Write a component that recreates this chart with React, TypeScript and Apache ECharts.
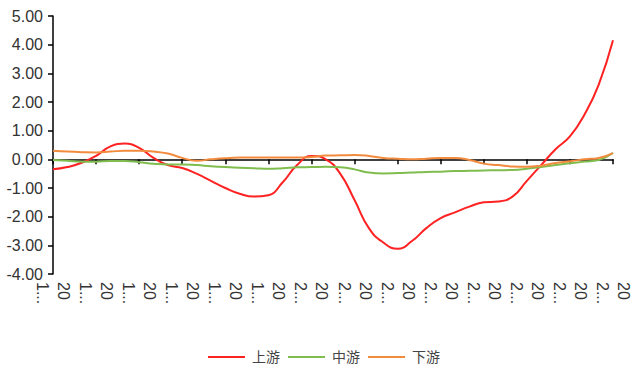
import React, { useEffect, useRef } from "react";
import * as echarts from "echarts";

const months: string[] = [
  "2018-07", "2018-08", "2018-09", "2018-10", "2018-11", "2018-12",
  "2019-01", "2019-02", "2019-03", "2019-04", "2019-05", "2019-06",
  "2019-07", "2019-08", "2019-09", "2019-10", "2019-11", "2019-12",
  "2020-01", "2020-02", "2020-03", "2020-04", "2020-05", "2020-06",
  "2020-07", "2020-08", "2020-09", "2020-10", "2020-11", "2020-12",
  "2021-01", "2021-02", "2021-03", "2021-04", "2021-05", "2021-06",
  "2021-07", "2021-08", "2021-09", "2021-10",
];

const upstream: number[] = [
  -0.35, -0.27, -0.12, 0.12, 0.45, 0.55, 0.4, 0.05, -0.2, -0.3,
  -0.5, -0.75, -1.0, -1.2, -1.3, -1.25, -0.8, -0.2, 0.12, 0.0,
  -0.5, -1.42, -2.4, -2.9, -3.12, -2.85, -2.4, -2.05, -1.85, -1.65,
  -1.5, -1.47, -1.3, -0.75, -0.2, 0.35, 0.8, 1.55, 2.6, 4.15,
];

const midstream: number[] = [
  -0.02, -0.05, -0.08, -0.08, -0.06, -0.06, -0.1, -0.15, -0.18, -0.18,
  -0.2, -0.24, -0.27, -0.29, -0.31, -0.33, -0.31, -0.28, -0.27, -0.26,
  -0.28, -0.35, -0.46, -0.49, -0.48, -0.46, -0.44, -0.43, -0.41, -0.4,
  -0.39, -0.38, -0.37, -0.33, -0.27, -0.2, -0.14, -0.08, -0.02, 0.22,
];

const downstream: number[] = [
  0.3, 0.27, 0.25, 0.24, 0.27, 0.3, 0.3, 0.27, 0.2, 0.05,
  -0.05, 0.0, 0.04, 0.06, 0.06, 0.06, 0.06, 0.06, 0.08, 0.13,
  0.14, 0.15, 0.12, 0.05, 0.02, 0.0, 0.02, 0.05, 0.05, -0.02,
  -0.15, -0.2, -0.25, -0.26, -0.22, -0.13, -0.07, 0.0, 0.05, 0.22,
];

const seriesNames: string[] = ["上游", "中游", "下游"];
const colors: string[] = ["#ff2222", "#7fbd4f", "#f28b3e"];

const FONT = "'Liberation Sans', Arial, 'Noto Sans CJK SC', sans-serif";

export default function App() {
  const ref = useRef<HTMLDivElement>(null);

  useEffect(() => {
    document.body.style.margin = "0";
    if (!ref.current) return;
    const chart = echarts.init(ref.current, null, { renderer: "svg" });
    const values = [upstream, midstream, downstream];
    chart.setOption({
      animation: false,
      color: colors,
      textStyle: { fontFamily: FONT },
      grid: { left: 53, right: 27, top: 16, bottom: 106 },
      legend: {
        top: 345,
        left: 203,
        icon: "rect",
        itemWidth: 37,
        itemHeight: 2,
        itemGap: 8,
        textStyle: { fontSize: 14, color: "#444", fontFamily: FONT, padding: [0, 0, 0, 2] },
        data: seriesNames,
      },
      xAxis: [
        {
          type: "category",
          data: months,
          boundaryGap: false,
          axisLine: { onZero: true, lineStyle: { color: "#000", width: 1.5 } },
          axisTick: { show: true, interval: 2, length: 5, lineStyle: { color: "#000", width: 1.5 } },
          axisLabel: { show: false },
          splitLine: { show: false },
        },
        {
          type: "category",
          data: months,
          boundaryGap: false,
          position: "bottom",
          axisLine: { show: false, onZero: false },
          axisTick: { show: false },
          axisLabel: {
            show: true,
            interval: 2,
            rotate: -90,
            fontSize: 16,
            lineHeight: 21,
            color: "#333",
            fontFamily: FONT,
            width: 28,
            overflow: "truncate",
            formatter: (v: string) => v.slice(0, 2) + "\n" + v.slice(2),
          },
          splitLine: { show: false },
        },
      ],
      yAxis: {
        type: "value",
        min: -4,
        max: 5,
        interval: 1,
        axisLine: { show: true, onZero: false, lineStyle: { color: "#000", width: 1.5 } },
        axisTick: { show: true, length: 5, lineStyle: { color: "#000", width: 1.5 } },
        axisLabel: {
          fontSize: 16,
          color: "#333",
          fontFamily: FONT,
          margin: 10,
          formatter: (v: number) => v.toFixed(2),
        },
        splitLine: { show: false },
      },
      series: seriesNames.map((n, i) => ({
        name: n,
        type: "line",
        xAxisIndex: 0,
        data: values[i],
        smooth: true,
        showSymbol: false,
        symbol: "none",
        lineStyle: { color: colors[i], width: 2 },
        itemStyle: { color: colors[i] },
      })),
    });
    return () => chart.dispose();
  }, []);

  return <div ref={ref} style={{ width: 640, height: 380 }} />;
}
